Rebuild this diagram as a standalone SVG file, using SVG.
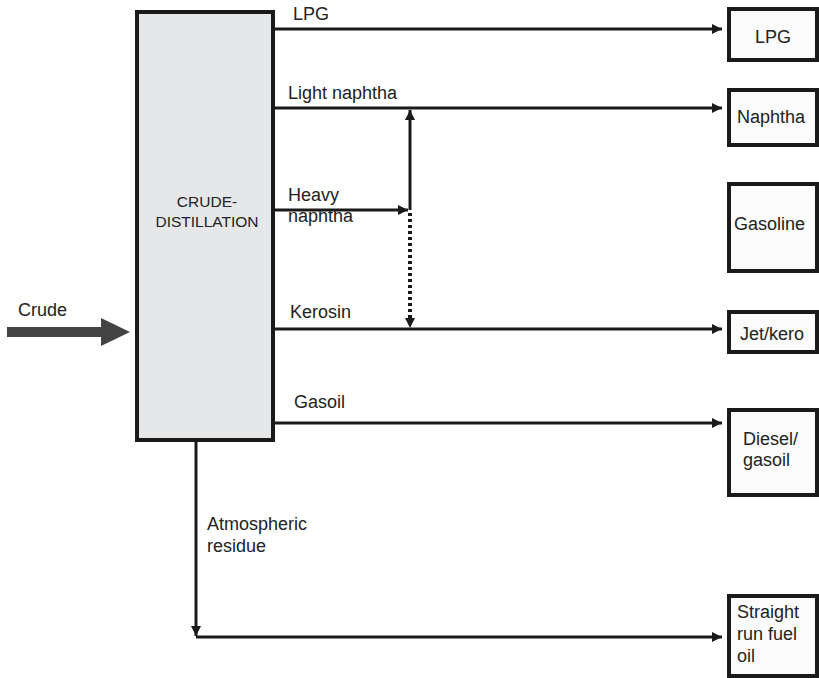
<svg xmlns="http://www.w3.org/2000/svg" width="819" height="678" viewBox="0 0 819 678">
<style>
text{font-family:"Liberation Sans",Arial,sans-serif;font-size:18px;fill:#222}
.sm{font-size:15.5px}
.box{fill:#fbfbfb;stroke:#1a1a1a;stroke-width:4}
.ln{stroke:#1a1a1a;stroke-width:3;fill:none}
.dot{stroke:#1a1a1a;stroke-width:4;fill:none;stroke-dasharray:3 3}
</style>
<defs>
<marker id="ah" markerWidth="10" markerHeight="10" refX="10" refY="5" orient="auto" markerUnits="userSpaceOnUse">
<path d="M0,0 L10,5 L0,10 Z" fill="#1a1a1a"/>
</marker>
</defs>
<rect width="819" height="678" fill="#fff"/>
<g id="crude-distillation">
<rect x="137" y="12" width="136" height="428" fill="#e6e7e9" stroke="#1a1a1a" stroke-width="4"/>
<text class="sm" x="207" y="207" text-anchor="middle">CRUDE-</text>
<text class="sm" x="207" y="227" text-anchor="middle">DISTILLATION</text>
</g>
<g id="lpg"><rect class="box" x="729" y="9" width="88" height="51"/><text x="755" y="43">LPG</text></g>
<g id="naphtha"><rect class="box" x="729" y="90" width="88" height="55"/><text x="737" y="123">Naphtha</text></g>
<g id="gasoline"><rect class="box" x="729" y="184" width="88" height="87"/><text x="734" y="230">Gasoline</text></g>
<g id="jetkero"><rect class="box" x="729" y="312" width="88" height="40"/><text x="740" y="340">Jet/kero</text></g>
<g id="diesel"><rect class="box" x="729" y="410" width="88" height="85"/><text x="743" y="445">Diesel/</text><text x="743" y="466">gasoil</text></g>
<g id="fueloil"><rect class="box" x="729" y="596" width="88" height="80"/><text x="737" y="618">Straight</text><text x="737" y="640">run fuel</text><text x="737" y="662">oil</text></g>
<g id="connectors">
<polygon points="7,327 101,327 101,318 130,332 101,346 101,337 7,337" fill="#444"/>
<line class="ln" x1="273" y1="29" x2="722" y2="29" marker-end="url(#ah)"/>
<line class="ln" x1="273" y1="108" x2="722" y2="108" marker-end="url(#ah)"/>
<line class="ln" x1="273" y1="210" x2="408" y2="210" marker-end="url(#ah)"/>
<line class="ln" x1="410" y1="210" x2="410" y2="110" marker-end="url(#ah)"/>
<line class="dot" x1="410" y1="213" x2="410" y2="318"/>
<path d="M405,318 L415,318 L410,328 Z" fill="#1a1a1a"/>
<line class="ln" x1="273" y1="329" x2="722" y2="329" marker-end="url(#ah)"/>
<line class="ln" x1="273" y1="423" x2="722" y2="423" marker-end="url(#ah)"/>
<line class="ln" x1="196" y1="440" x2="196" y2="636" marker-end="url(#ah)"/>
<line class="ln" x1="196" y1="637" x2="722" y2="637" marker-end="url(#ah)"/>
</g>
<g id="labels">
<text x="18" y="316">Crude</text>
<text x="293" y="20">LPG</text>
<text x="288" y="99">Light naphtha</text>
<text x="288" y="201">Heavy</text>
<text x="288" y="222">naphtha</text>
<text x="290" y="318">Kerosin</text>
<text x="294" y="408">Gasoil</text>
<text x="207" y="530">Atmospheric</text>
<text x="207" y="552">residue</text>
</g>
</svg>
